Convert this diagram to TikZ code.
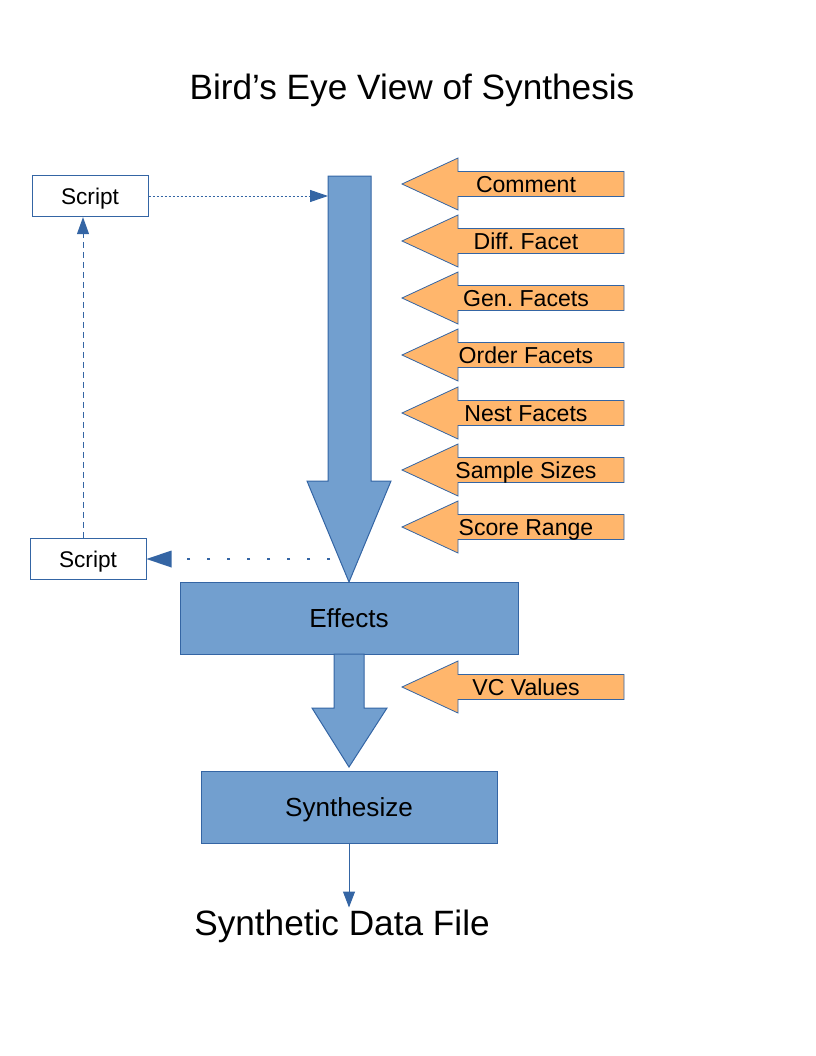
\documentclass[tikz,border=0pt]{standalone}
\usepackage{fontspec}
\setmainfont{Liberation Sans}
\frenchspacing
\usetikzlibrary{arrows.meta}
\definecolor{flow}{HTML}{729FCF}
\definecolor{edge}{HTML}{3465A4}
\definecolor{input}{HTML}{FFB66C}
\tikzset{
  bigarrow/.style={fill=flow, draw=edge, line width=0.75pt, line join=miter},
  inarrow/.style={fill=input, draw=edge, line width=0.6pt, line join=miter},
  stage/.style={fill=flow, draw=edge, line width=0.75pt, minimum height=54pt,
    font=\fontsize{19.6}{23}\selectfont, text height=14.1pt, text depth=0pt},
  scriptbox/.style={draw=edge, line width=0.75pt, minimum width=87pt, minimum height=31pt,
    font=\fontsize{17}{20}\selectfont, text height=12.2pt, text depth=0pt},
  inlab/.style={font=\fontsize{17.3}{20}\selectfont, text height=12.5pt, text depth=0pt},
  big/.style={font=\fontsize{26.4}{31}\selectfont, text height=19pt, text depth=0pt},
  link/.style={draw=edge, line width=0.75pt},
}

\begin{document}
\begin{tikzpicture}[x=0.75pt, y=-0.75pt]
  \useasboundingbox (0,0) rectangle (816,1056);

  \node[big] (title) at (412,87) {Bird’s Eye View of Synthesis};

  % main flow
  \draw[bigarrow] (328,176) -- (371,176) -- (371,481) -- (391,481) -- (349,582)
    -- (307,481) -- (328,481) -- cycle;
  \node[stage, minimum width=253.5pt] (E) at (349,618) {Effects};
  \draw[bigarrow] (334,654) -- (364,654) -- (364,708) -- (387,708) -- (349,767)
    -- (312,708) -- (334,708) -- cycle;
  \node[stage, minimum width=222pt] (S) at (349,807) {Synthesize};
  \node[big] (F) at (342,923) {Synthetic Data File};
  \draw[link, -{Triangle[length=12pt, width=9pt]}] (S.south) -- ++(0,64) coordinate (Fin);

  % inputs
  \foreach \y/\txt in {184/Comment, 241/Diff. Facet, 298/Gen. Facets, 355/Order Facets,
      413/Nest Facets, 470/Sample Sizes, 527/Score Range, 687/VC Values} {
    \draw[inarrow] (402,\y) -- (458,\y-26) -- (458,\y-12.5) -- (624,\y-12.5)
      -- (624,\y+12.5) -- (458,\y+12.5) -- (458,\y+26) -- cycle;
    \node[inlab] at (526,\y) {\txt};
  }

  % scripts
  \node[scriptbox] (A) at (90,196) {Script};
  \node[scriptbox] (B) at (88,559) {Script};
  \coordinate (P) at (328,196);
  \coordinate (Q) at (330,559);
  \draw[link, dash pattern=on 1.5pt off 1.5pt, -{Triangle[length=13.5pt, width=9pt]}] (A.east) -- (P);
  \draw[link, line width=2.2pt, dash pattern=on 2.2pt off 12.8pt,
    -{Triangle[length=18.75pt, width=12.75pt, line width=0pt]}] (Q) -- (B.east);
  \draw[link, dash pattern=on 4.5pt off 3pt, -{Triangle[length=12.75pt, width=9pt]}] (B.north -| 83,0) -- (A.south -| 83,0);
\end{tikzpicture}
\end{document}
